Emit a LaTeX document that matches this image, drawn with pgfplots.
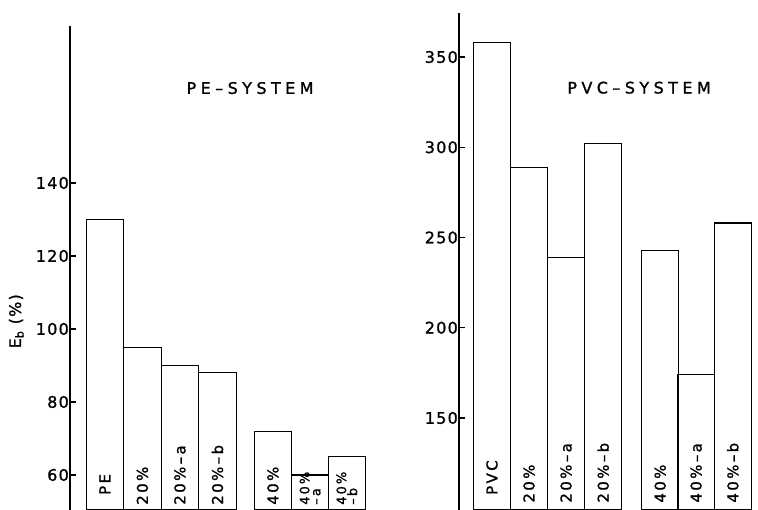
\documentclass[border=0pt]{standalone}
\usepackage{fontspec}
\setmainfont[LetterSpace=8, FakeBold=1.2]{DejaVu Sans}
\newfontfamily\titlefont[LetterSpace=28, FakeBold=1.2]{DejaVu Sans}
\newfontfamily\lblfont[LetterSpace=16, FakeBold=1.2]{DejaVu Sans}
\usepackage{pgfplots}
\pgfplotsset{compat=1.18}
\tikzset{lbl/.style={rotate=90, anchor=west, inner sep=0pt, font=\lblfont\fontsize{15}{15}\selectfont, align=left}}
\begin{document}
\begin{tikzpicture}
\useasboundingbox (0,0) rectangle (758bp,510bp);
\pgfplotsset{
  panel/.style={
    scale only axis, anchor=south west,
    axis x line=none, axis y line=left,
    axis line style={-, line width=1.2pt},
    tick align=inside, major tick length=6bp,
    every tick/.style={line width=1.2pt, black},
    yticklabel style={font=\fontsize{16}{18}\selectfont, inner sep=1pt},
    /pgf/number format/assume math mode=true,
    ybar, bar width=1,
  },
}
\begin{axis}[panel,
  at={(70bp,0bp)}, width=305bp, height=484bp,
  xmin=-0.93, xmax=7.2, ymin=50.4, ymax=183,
  ytick={60,80,100,120,140},
  ylabel={E\textsubscript{b} (\%)},
  ylabel style={at={(axis description cs:-0.176,0.39)}, anchor=center, font=\fontsize{16}{18}\selectfont},
]
\addplot[draw=black, fill=white, line width=1.2pt] coordinates {(0,130) (1,95) (2,90) (3,88) (4.48,72) (5.47,60) (6.45,65)};
\node[lbl] at (axis cs:0,54.5) {PE};
\node[lbl] at (axis cs:1,51.8) {20\%};
\node[lbl] at (axis cs:2,51.8) {20\%–a};
\node[lbl] at (axis cs:3,51.8) {20\%–b};
\node[lbl] at (axis cs:4.48,51.8) {40\%};
\node[lbl, font=\lblfont\fontsize{13}{11}\selectfont] at (axis cs:5.47,51.8) {40\%\\–a};
\node[lbl, font=\lblfont\fontsize{13}{11}\selectfont] at (axis cs:6.45,51.8) {40\%\\–b};
\node[font=\titlefont\fontsize{16}{18}\selectfont] at (axis cs:3.87,166) {PE–SYSTEM};
\end{axis}
\begin{axis}[panel,
  at={(459bp,0bp)}, width=296bp, height=497bp,
  xmin=-0.89, xmax=7.1, ymin=99, ymax=374.4,
  ytick={150,200,250,300,350},
]
\addplot[draw=black, fill=white, line width=1.2pt] coordinates {(0,358) (1,289) (2,239) (3,302) (4.54,243) (5.51,174) (6.5,258)};
\node[lbl] at (axis cs:0,107.3) {PVC};
\node[lbl] at (axis cs:1,103) {20\%};
\node[lbl] at (axis cs:2,103) {20\%–a};
\node[lbl] at (axis cs:3,103) {20\%–b};
\node[lbl] at (axis cs:4.54,103) {40\%};
\node[lbl] at (axis cs:5.51,103) {40\%–a};
\node[lbl] at (axis cs:6.5,103) {40\%–b};
\node[font=\titlefont\fontsize{16}{18}\selectfont] at (axis cs:3.97,333) {PVC–SYSTEM};
\end{axis}
\end{tikzpicture}
\end{document}
